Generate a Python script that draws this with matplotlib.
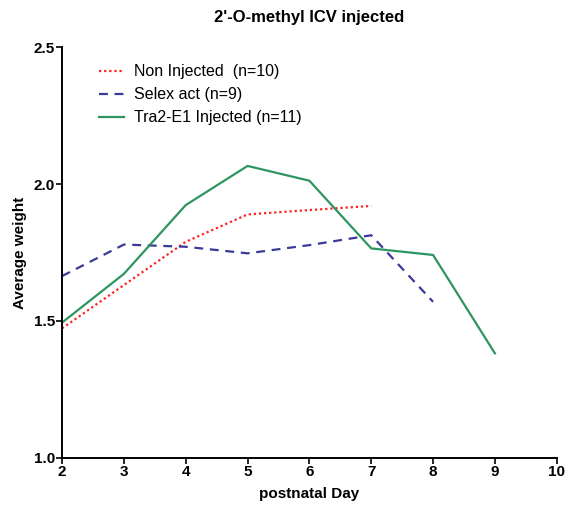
import matplotlib
matplotlib.use("Agg")
import matplotlib.pyplot as plt

plt.rcParams['font.family'] = ['Liberation Sans', 'DejaVu Sans']

days_non = [2, 3, 4, 5, 6, 7]
non_injected = [1.473, 1.631, 1.789, 1.889, 1.905, 1.920]
days_selex = [2, 3, 4, 5, 6, 7, 8]
selex_act = [1.664, 1.779, 1.771, 1.747, 1.777, 1.813, 1.570]
days_tra = [2, 3, 4, 5, 6, 7, 8, 9]
tra2_injected = [1.494, 1.672, 1.923, 2.066, 2.012, 1.765, 1.741, 1.382]

xticks = [2, 3, 4, 5, 6, 7, 8, 9, 10]
yticks = [1.0, 1.5, 2.0, 2.5]

fig = plt.figure(figsize=(5.7, 5.15), dpi=100)
ax = fig.add_axes([0.1088, 0.1107, 0.868, 0.798])

ax.plot(days_non, non_injected, linestyle=(0, (1, 1.3)), color='#ff2020', lw=1.6,
        label='Non Injected  (n=10)')
ax.plot(days_selex, selex_act, linestyle=(0, (4, 3)), color='#3a3a9a', lw=1.6,
        label='Selex act (n=9)')
ax.plot(days_tra, tra2_injected, linestyle='-', color='#2e9560', lw=1.6,
        label='Tra2-E1 Injected (n=11)')

ax.set_xlim(2, 10)
ax.set_ylim(1.0, 2.5)
ax.set_xticks(xticks)
ax.set_xticklabels([str(x) for x in xticks], fontweight='bold', fontsize=11)
ax.set_yticks(yticks)
ax.set_yticklabels([f"{y:.1f}" for y in yticks], fontweight='bold', fontsize=11)
ax.tick_params(direction='out', length=4, width=1.2, pad=1)
for s in ['top', 'right']:
    ax.spines[s].set_visible(False)
for s in ['left', 'bottom']:
    ax.spines[s].set_linewidth(1.4)

ax.set_xlabel('postnatal Day', fontweight='bold', fontsize=11, labelpad=6)
ax.set_ylabel('Average weight', fontweight='bold', fontsize=11, labelpad=5)
ax.set_title("2'-O-methyl ICV injected", fontweight='bold', fontsize=12, pad=18)

ax.legend(loc='upper left', bbox_to_anchor=(0.045, 0.993), frameon=False,
          fontsize=11.5, handlelength=1.6, labelspacing=0.5, handletextpad=0.6)

fig.savefig('out.png', dpi=100)
